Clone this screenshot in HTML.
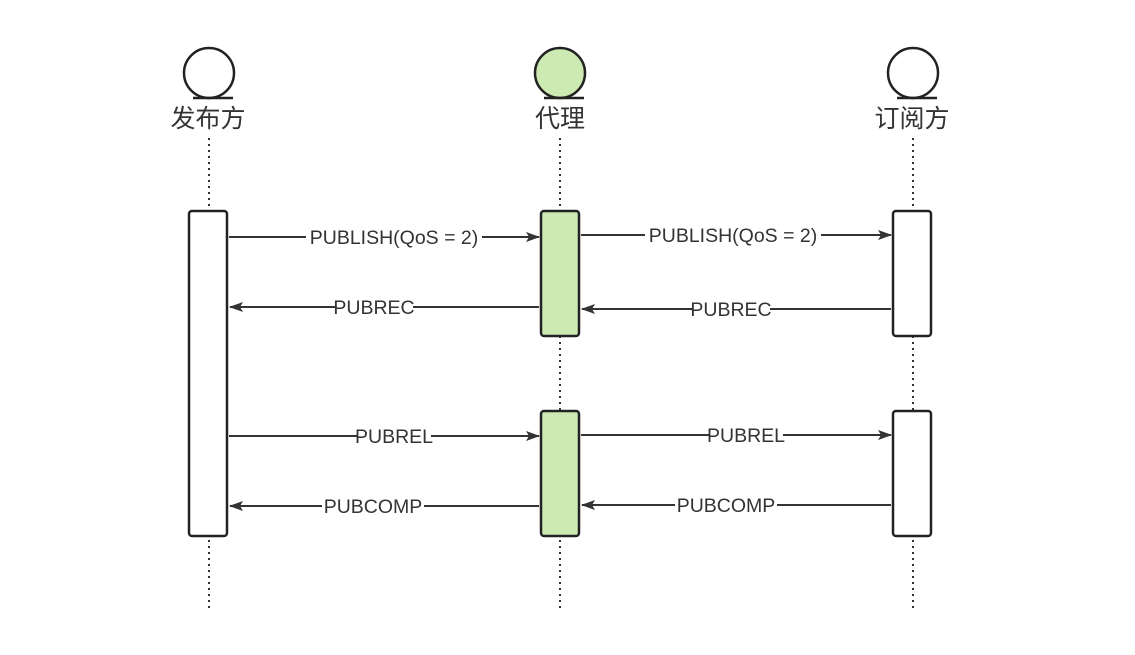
<!DOCTYPE html>
<html><head><meta charset="utf-8"><style>
body{margin:0;background:#fff}
text{font-family:"Liberation Sans","Noto Sans CJK SC",sans-serif;fill:#333}
</style></head><body>
<svg width="1135" height="650" xmlns="http://www.w3.org/2000/svg">
<defs><marker id="a" markerWidth="14" markerHeight="10" refX="13" refY="5" orient="auto" markerUnits="userSpaceOnUse"><path d="M0,0 L14,5 L0,10 L3,5 Z" fill="#333"/></marker></defs>
<g stroke="#333" stroke-width="2" stroke-dasharray="2,4">
<line x1="209" y1="138" x2="209" y2="610"/>
<line x1="560" y1="138" x2="560" y2="610"/>
<line x1="913" y1="138" x2="913" y2="610"/>
</g>
<g stroke="#222" stroke-width="2.5">
<circle cx="209" cy="73" r="25" fill="#fff"/><line x1="193" y1="98" x2="233" y2="98"/>
<circle cx="560" cy="73" r="25" fill="#cdeab3"/><line x1="544" y1="98" x2="584" y2="98"/>
<circle cx="913" cy="73" r="25" fill="#fff"/><line x1="897" y1="98" x2="937" y2="98"/>
<rect x="189" y="211" width="38" height="325" rx="3" fill="#fff"/>
<rect x="541" y="211" width="38" height="125" rx="3" fill="#cdeab3"/>
<rect x="541" y="411" width="38" height="125" rx="3" fill="#cdeab3"/>
<rect x="893" y="211" width="38" height="125" rx="3" fill="#fff"/>
<rect x="893" y="411" width="38" height="125" rx="3" fill="#fff"/>
</g>
<g font-size="25" text-anchor="middle">
<text x="208" y="127">发布方</text><text x="560" y="127">代理</text><text x="912" y="127">订阅方</text>
</g>
<g stroke="#333" stroke-width="2" marker-end="url(#a)">
<line x1="229" y1="237" x2="539" y2="237"/>
<line x1="581" y1="235" x2="891" y2="235"/>
<line x1="539" y1="307" x2="230" y2="307"/>
<line x1="891" y1="309" x2="582" y2="309"/>
<line x1="229" y1="436" x2="539" y2="436"/>
<line x1="581" y1="435" x2="891" y2="435"/>
<line x1="539" y1="506" x2="230" y2="506"/>
<line x1="891" y1="505" x2="582" y2="505"/>
</g>
<g font-size="19.5" text-anchor="middle">
<rect x="306" y="226" width="176" height="22" fill="#fff"/><text x="394" y="244">PUBLISH(QoS = 2)</text>
<rect x="645" y="224" width="176" height="22" fill="#fff"/><text x="733" y="242">PUBLISH(QoS = 2)</text>
<rect x="335" y="296" width="78" height="22" fill="#fff"/><text x="374" y="314">PUBREC</text>
<rect x="692" y="298" width="78" height="22" fill="#fff"/><text x="731" y="316">PUBREC</text>
<rect x="357" y="425" width="74" height="22" fill="#fff"/><text x="394" y="443">PUBREL</text>
<rect x="709" y="424" width="74" height="22" fill="#fff"/><text x="746" y="442">PUBREL</text>
<rect x="322" y="495" width="102" height="22" fill="#fff"/><text x="373" y="513">PUBCOMP</text>
<rect x="675" y="494" width="102" height="22" fill="#fff"/><text x="726" y="512">PUBCOMP</text>
</g>
</svg>
</body></html>
